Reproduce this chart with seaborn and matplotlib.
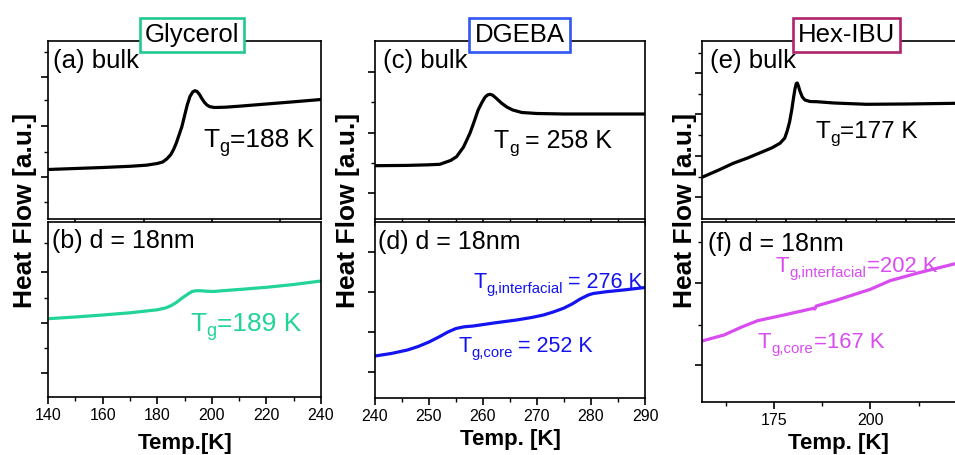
import numpy as np
import pandas as pd
import matplotlib
matplotlib.use("Agg")
import matplotlib.pyplot as plt
import seaborn as sns
from matplotlib.ticker import FixedLocator, NullFormatter

# ---------------- data (arbitrary heat-flow units) ----------------
gly_bulk_T = [140, 150, 160, 170, 176, 180, 182, 183.5, 185, 186, 187, 188, 189, 190, 191,
              192, 193, 193.8, 194.6, 195.5, 196.3, 197.2, 198.2, 199.3, 201, 205, 210, 220,
              230, 240]
gly_bulk_hf = [4.95, 5.05, 5.15, 5.27, 5.38, 5.55, 5.7, 6.0, 6.45, 6.95, 7.6, 8.4, 9.2, 10.3,
               11.4, 12.25, 12.7, 12.83, 12.75, 12.45, 12.07, 11.7, 11.4, 11.23, 11.15, 11.18,
               11.28, 11.5, 11.72, 11.95]

gly_film_T = [140, 150, 160, 170, 176, 180, 183, 185, 187, 189, 191, 192.6, 194, 195.7, 198,
              200.5, 205, 210, 220, 230, 240]
gly_film_hf = [7.83, 8.0, 8.2, 8.42, 8.6, 8.72, 8.9, 9.12, 9.45, 9.87, 10.25, 10.53, 10.62,
               10.63, 10.58, 10.55, 10.65, 10.75, 10.97, 11.25, 11.6]

dgeba_bulk_T = [240, 246, 250, 252, 254, 255.1, 256.4, 257.6, 258.4, 259.1, 259.8, 260.4,
                260.9, 261.3, 261.8, 262.5, 263.4, 264.4, 265.5, 267.2, 270, 275, 290]
dgeba_bulk_hf = [5.33, 5.36, 5.42, 5.47, 5.85, 6.23, 7.2, 8.6, 9.8, 10.9, 11.65, 12.2,
                 12.42, 12.47, 12.38, 12.05, 11.6, 11.2, 10.9, 10.65, 10.55, 10.5, 10.5]

dgeba_film_T = [240, 243, 246, 248, 250, 252, 253.5, 255, 256.5, 258.2, 262, 266.2, 269,
                271.2, 273, 274.9, 276.5, 278, 279.5, 280.4, 282.9, 286, 290]
dgeba_film_hf = [4.2, 4.45, 4.8, 5.15, 5.6, 6.15, 6.6, 6.95, 7.12, 7.2, 7.5, 7.8, 8.05,
                 8.3, 8.6, 8.97, 9.4, 9.9, 10.3, 10.45, 10.63, 10.8, 11.05]

hex_bulk_T = [140, 147, 153, 159, 164, 169, 172.5, 174.5, 175.5, 176.5, 177.4, 178.2, 178.8,
              179.3, 179.7, 180.2, 180.8, 181.8, 182.9, 185, 187.8, 195, 208.6, 225, 246]
hex_bulk_hf = [4.17, 4.9, 5.57, 6.1, 6.6, 7.1, 7.57, 8.1, 8.8, 9.7, 10.9, 12.2, 13.07,
               13.55, 13.6, 13.3, 12.8, 12.2, 11.9, 11.75, 11.73, 11.6, 11.47, 11.5, 11.57]

hex_film_T = [156.4, 162.1, 166.5, 170.8, 177.6, 185.3, 185.6, 186, 191.4, 200, 205.1, 212, 222.7]
hex_film_hf = [6.1, 6.7, 7.47, 8.13, 8.7, 9.37, 9.3, 9.6, 10.2, 11.27, 12.13, 12.87, 13.9]

materials = ["Glycerol", "DGEBA", "Hex-IBU"]
bulk_labels = ["(a) bulk", "(c) bulk", "(e) bulk"]
film_labels = ["(b) d = 18nm", "(d) d = 18nm", "(f) d = 18nm"]
xlabels = ["Temp.[K]", "Temp. [K]", "Temp. [K]"]

box_colors = ["#22c98f", "#2f55f5", "#b0246c"]
film_colors = ["#22d495", "#1414f0", "#d84cf0"]

# ---------------- style ----------------
sns.set_theme(style="ticks")
plt.rcParams["font.family"] = ["Liberation Sans", "DejaVu Sans"]
plt.rcParams["text.color"] = "black"
plt.rcParams["axes.labelcolor"] = "black"
plt.rcParams["xtick.color"] = "black"
plt.rcParams["ytick.color"] = "black"
plt.rcParams["axes.linewidth"] = 1.2

W, H = 955, 455
fig = plt.figure(figsize=(W / 100, H / 100), dpi=100)
renderer = fig.canvas.get_renderer()


def fx(px):
    return px / W


def fy(py):
    return 1 - py / H


def add_axes(x0, x1, y0, y1):
    return fig.add_axes([fx(x0), fy(y1), fx(x1) - fx(x0), (y1 - y0) / H])


top_rects = [(48, 321, 41, 219), (375, 645, 41, 219), (702, 958, 41, 219)]
bot_rects = [(48, 321, 222, 397), (375, 645, 222, 398), (702, 958, 222, 402)]

top_xlims = [(140, 240), (240, 290), (140, 246.7)]
bot_xlims = [(140, 240), (240, 290), (156.4, 222.7)]

top_xmajor = [[150, 175, 200, 225], [240, 250, 260, 270, 280, 290], [150, 175, 200, 225]]
top_xminor = [[], [245, 255, 265, 275, 285], [162.5, 187.5, 212.5, 237.5]]
bot_xmajor = [[140, 160, 180, 200, 220, 240], [240, 250, 260, 270, 280, 290], [175, 200]]
bot_xminor = [[150, 170, 190, 210, 230], [245, 255, 265, 275, 285], [162.5, 187.5, 212.5]]

top_ymajor = [[4.2, 9.3, 14.2], [2.6, 8.6, 14.7], [2.2, 6.3, 10.5, 14.6]]
top_yminor = [[1.7, 6.7, 11.9, 16.7], [5.6, 11.7], [4.2, 8.4, 12.5, 16.6]]
bot_ymajor = [[2.4, 7.4, 12.5], [2.6, 6.6, 10.6, 14.6], [3.7, 11.9]]
bot_yminor = [[4.9, 9.9, 15.4], [], [7.7, 16.0]]

bulk_data = [(gly_bulk_T, gly_bulk_hf), (dgeba_bulk_T, dgeba_bulk_hf), (hex_bulk_T, hex_bulk_hf)]
film_data = [(gly_film_T, gly_film_hf), (dgeba_film_T, dgeba_film_hf), (hex_film_T, hex_film_hf)]


def style_axes(ax, xmaj, xmin, ymaj, ymin, labels):
    ax.xaxis.set_major_locator(FixedLocator(xmaj))
    ax.xaxis.set_minor_locator(FixedLocator(xmin))
    ax.yaxis.set_major_locator(FixedLocator(ymaj))
    ax.yaxis.set_minor_locator(FixedLocator(ymin))
    ax.yaxis.set_major_formatter(NullFormatter())
    if not labels:
        ax.xaxis.set_major_formatter(NullFormatter())
    ax.tick_params(which="major", direction="out", length=5, width=1.2,
                   labelsize=11.5, pad=3, colors="black")
    ax.tick_params(which="minor", direction="out", length=3, width=1.0)
    ax.tick_params(axis="y", which="both", left=True)
    ax.tick_params(axis="x", which="both", bottom=True)
    for s in ax.spines.values():
        s.set_visible(True)
        s.set_color("black")
        s.set_linewidth(1.2)
    ax.set_xlabel("")
    ax.set_ylabel("")


for i in range(3):
    l, r, t, b = top_rects[i]
    ax = add_axes(l, r, t, b)
    T, hf = bulk_data[i]
    df = pd.DataFrame({"T": T, "hf": hf})
    sns.lineplot(data=df, x="T", y="hf", ax=ax, color="black", lw=2.3,
                 estimator=None, legend=False)
    ax.set_xlim(*top_xlims[i])
    ax.set_ylim(0, (b - t) / 10)
    style_axes(ax, top_xmajor[i], top_xminor[i], top_ymajor[i], top_yminor[i], False)

    l, r, t, b = bot_rects[i]
    ax = add_axes(l, r, t, b)
    T, hf = film_data[i]
    df = pd.DataFrame({"T": T, "hf": hf})
    sns.lineplot(data=df, x="T", y="hf", ax=ax, color=film_colors[i], lw=2.3,
                 estimator=None, legend=False)
    ax.set_xlim(*bot_xlims[i])
    ax.set_ylim(0, (b - t) / 10)
    style_axes(ax, bot_xmajor[i], bot_xminor[i], bot_ymajor[i], bot_yminor[i], True)

# ---------------- texts ----------------
box_centers = [(192, 35), (519.5, 35), (846.5, 35)]
for name, (cx, cy), col in zip(materials, box_centers, box_colors):
    fig.text(fx(cx), fy(cy), name, ha="center", va="center", fontsize=18.5, color="black",
             zorder=10,
             bbox=dict(boxstyle="square,pad=0.2", fc="white", ec=col, lw=1.9))

bulk_pos = [(53, 68), (383, 68), (710, 68)]
film_pos = [(52, 248), (378, 249), (708, 251)]
for lab, (px, py) in zip(bulk_labels, bulk_pos):
    fig.text(fx(px), fy(py), lab, ha="left", va="baseline", fontsize=18.5)
for lab, (px, py) in zip(film_labels, film_pos):
    fig.text(fx(px), fy(py), lab, ha="left", va="baseline", fontsize=18)


def sub_text(px, py, parts, color):
    """parts: list of (string, fontsize, baseline shift in px, gap after in px)"""
    x = px
    for s, size, dy, gap in parts:
        t = fig.text(fx(x), fy(py + dy), s, fontsize=size, color=color,
                     ha="left", va="baseline")
        bb = t.get_window_extent(renderer)
        x = bb.x1 + gap


tg_texts = [
    (203, 147, "black", [("T", 19, 0, 0.5), ("g", 13, 5, 0.5), ("=188 K", 19, 0, 0)]),
    (190, 331, film_colors[0], [("T", 19, 0, 0.5), ("g", 13, 5, 0.5), ("=189 K", 19, 0, 0)]),
    (493, 148, "black", [("T", 18, 0, 0.5), ("g", 12.5, 5, 7), ("= 258 K", 18, 0, 0)]),
    (473, 288, film_colors[1], [("T", 15.5, 0, 0.5), ("g,interfacial", 10.7, 5, 5),
                                ("= 276 K", 15.5, 0, 0)]),
    (458, 352, film_colors[1], [("T", 15.5, 0, 0.5), ("g,core", 10.7, 5, 5),
                                ("= 252 K", 15.5, 0, 0)]),
    (815, 138, "black", [("T", 17.5, 0, 0.5), ("g", 12.5, 5, 0.5), ("=177 K", 17.5, 0, 0)]),
    (775, 272, film_colors[2], [("T", 15.8, 0, 0.5), ("g,interfacial", 10.8, 5, 1),
                                ("=202 K", 15.8, 0, 0)]),
    (757, 348, film_colors[2], [("T", 15.8, 0, 0.5), ("g,core", 10.8, 5, 1),
                                ("=167 K", 15.8, 0, 0)]),
]
for px, py, col, parts in tg_texts:
    sub_text(px, py, parts, col)

ylab_x = [25, 348, 685]
for px in ylab_x:
    fig.text(fx(px), fy(210), "Heat Flow [a.u.]", rotation=90, ha="center", va="center",
             fontsize=19, fontweight="bold")

xlab_pos = [(185, 443), (510, 440), (838, 443)]
for lab, (px, py) in zip(xlabels, xlab_pos):
    fig.text(fx(px), fy(py), lab, ha="center", va="center", fontsize=16, fontweight="bold")

fig.savefig("out.png", dpi=100)
